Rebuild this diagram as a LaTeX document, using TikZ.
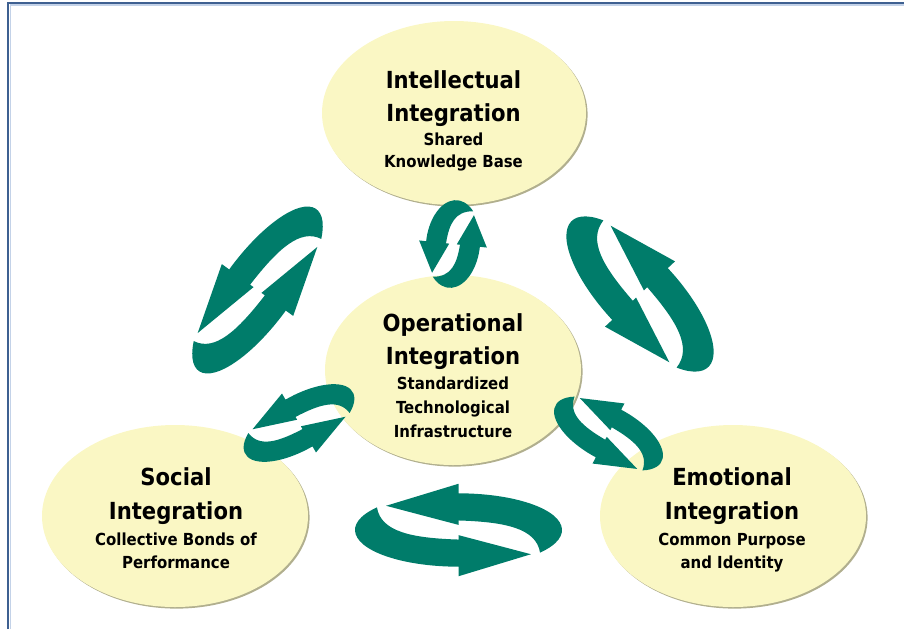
\documentclass[tikz,border=0pt]{standalone}
\usepackage{fontspec}
\usetikzlibrary{shapes.geometric,shadows}
\newfontfamily\dvfont[FakeStretch=0.9]{DejaVu Sans}
\definecolor{ellfill}{RGB}{250,247,196}
\definecolor{ellshade}{RGB}{168,166,130}
\definecolor{arrowteal}{RGB}{0,124,106}
\definecolor{framedark}{RGB}{62,96,145}
\definecolor{framelight}{RGB}{195,210,232}
\tikzset{
  ell/.style={ellipse, fill=ellfill, draw=none, inner sep=0pt,
    drop shadow={shadow xshift=1.6pt, shadow yshift=-1.6pt, fill=ellshade, opacity=0.9}},
  ttl/.style={font=\dvfont\bfseries\fontsize{23.5}{28}\selectfont, anchor=base, inner sep=0pt},
  sub/.style={font=\dvfont\bfseries\fontsize{16.6}{19}\selectfont, anchor=base, inner sep=0pt},
  swirl/.pic={
    \fill[arrowteal] (0.788,-0.616) arc[start angle=-38, end angle=90, radius=1]
      -- (0,1.26) -- (-0.70,0.66) -- (0,0.14) -- (0,0.26)
      .. controls (0.45,0.22) and (0.75,0.05) .. (0.788,-0.616) -- cycle;
    \begin{scope}[rotate=180]
    \fill[arrowteal] (0.788,-0.616) arc[start angle=-38, end angle=90, radius=1]
      -- (0,1.26) -- (-0.70,0.66) -- (0,0.14) -- (0,0.26)
      .. controls (0.45,0.22) and (0.75,0.05) .. (0.788,-0.616) -- cycle;
    \end{scope}
  }
}
\begin{document}
\begin{tikzpicture}[x=1pt,y=1pt]
\useasboundingbox (0,0) rectangle (904,-629);
% frame
\coordinate (fa) at (7.8,-629);
\coordinate (fb) at (7.8,-2.8);
\coordinate (fc) at (904,-2.8);
\coordinate (ga) at (10.1,-629);
\coordinate (gb) at (10.1,-5.0);
\coordinate (gc) at (904,-5.0);
\draw[framedark, line width=2.4pt] (fa) -- (fb) -- (fc);
\draw[framelight, line width=1.1pt] (ga) -- (gb) -- (gc);
% ellipses
\node[ell, minimum width=264, minimum height=184] (intel) at (454,-113) {};
\node[ell, minimum width=256, minimum height=190] (oper) at (453,-370) {};
\node[ell, minimum width=266, minimum height=182] (soc) at (175,-516) {};
\node[ell, minimum width=266, minimum height=182] (emo) at (733,-516) {};
% cycle arrows
\pic (sw1) [rotate=0, xscale=103.5, yscale=36.7] at (458.5,-530) {swirl};
\pic (sw2) [rotate=54, xscale=100, yscale=35] at (257.5,-290) {swirl};
\pic (sw3) [rotate=-47, xscale=100, yscale=38] at (640,-294) {swirl};
\pic (sw4) [rotate=84, xscale=44, yscale=27] at (453,-244) {swirl};
\pic (sw5) [rotate=30, xscale=62, yscale=27] at (299,-423) {swirl};
\pic (sw6) [rotate=-28, xscale=60, yscale=27] at (608.5,-433.5) {swirl};
% texts
\node[ttl] (i1) at (453.5,-88) {Intellectual};
\node[ttl] (i2) at (453.5,-121) {Integration};
\node[sub] (i3) at (453.5,-145) {Shared};
\node[sub] (i4) at (453.5,-167) {Knowledge Base};
\node[ttl] (o1) at (453,-331) {Operational};
\node[ttl] (o2) at (453,-364) {Integration};
\node[sub] (o3) at (453,-389) {Standardized};
\node[sub] (o4) at (453,-413) {Technological};
\node[sub] (o5) at (453,-437) {Infrastructure};
\node[ttl] (s1) at (176,-485) {Social};
\node[ttl] (s2) at (176,-519) {Integration};
\node[sub] (s3) at (176,-545) {Collective Bonds of};
\node[sub] (s4) at (176,-568) {Performance};
\node[ttl] (e1) at (732,-485) {Emotional};
\node[ttl] (e2) at (732,-519) {Integration};
\node[sub] (e3) at (732,-545) {Common Purpose};
\node[sub] (e4) at (732,-568) {and Identity};
\end{tikzpicture}
\end{document}
